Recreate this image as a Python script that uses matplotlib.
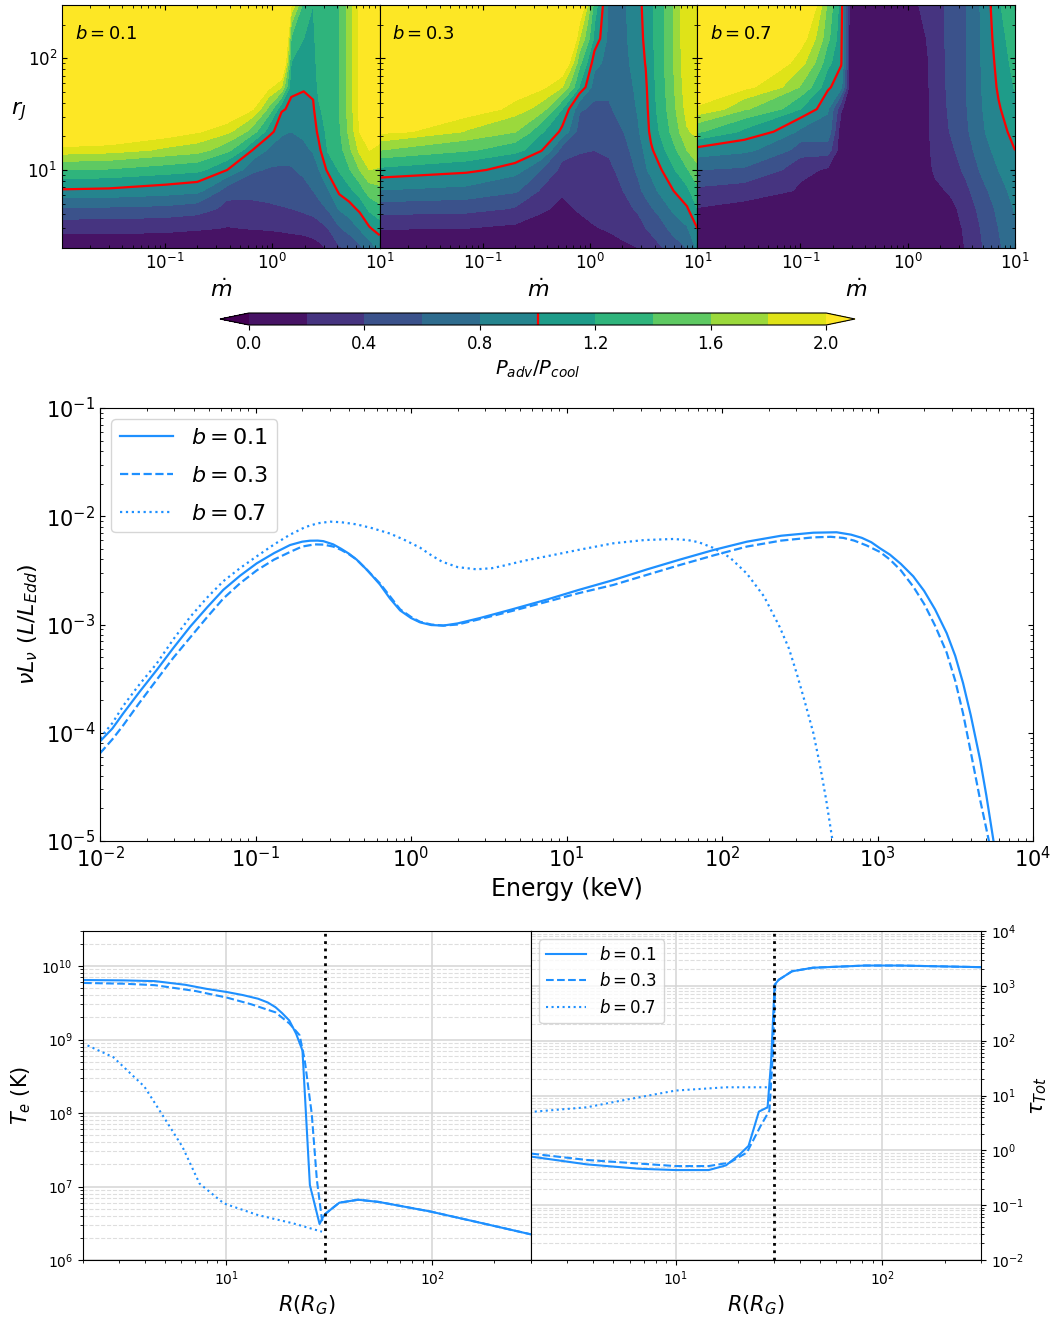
import numpy as np
import matplotlib
matplotlib.use("Agg")
import matplotlib.pyplot as plt
from matplotlib.ticker import LogLocator, NullFormatter

W, H = 1059, 1322
fig = plt.figure(figsize=(W / 100, H / 100), dpi=100)

# ---------------- top: P_adv/P_cool maps ----------------
rj = [2, 3, 4.5, 6.5, 10, 15, 22, 35, 55, 90, 150, 300]

mdot_b01 = [0.011, 0.03, 0.1, 0.2, 0.38, 0.65, 0.92, 1.22, 1.5, 1.96, 2.4, 2.7, 3.3, 4.2, 5.2, 6.5, 8.0, 10.0]
ratio_b01 = [  # one list per mdot column, values along rj
    [0.05, 0.27, 0.58, 0.975, 1.4, 1.92, 2.4, 3, 3, 3, 3, 3],
    [0.05, 0.27, 0.57, 0.96, 1.38, 1.88, 2.35, 3, 3, 3, 3, 3],
    [0.05, 0.25, 0.55, 0.9, 1.3, 1.75, 2.15, 2.8, 3, 3, 3, 3],
    [0.05, 0.22, 0.5, 0.85, 1.25, 1.68, 2.02, 2.6, 3, 3, 3, 3],
    [0.05, 0.19, 0.33, 0.49, 1.0, 1.45, 1.85, 2.3, 2.8, 3, 3, 3],
    [0.05, 0.21, 0.35, 0.46, 0.63, 1.0, 1.5, 2.02, 2.6, 3, 3, 3],
    [0.05, 0.22, 0.37, 0.47, 0.58, 0.77, 1.1, 1.55, 2.05, 2.6, 3, 3],
    [0.05, 0.24, 0.39, 0.47, 0.57, 0.71, 0.83, 1.03, 1.8, 2.5, 3, 3],
    [0.06, 0.26, 0.4, 0.47, 0.58, 0.7, 0.8, 0.95, 1.05, 1.19, 1.38, 2.0],
    [0.08, 0.28, 0.44, 0.53, 0.65, 0.76, 0.84, 0.93, 1.02, 1.1, 1.2, 1.3],
    [0.12, 0.3, 0.48, 0.6, 0.7, 0.82, 0.9, 0.97, 1.05, 1.12, 1.16, 1.2],
    [0.15, 0.33, 0.52, 0.68, 0.79, 0.95, 1.05, 1.17, 1.25, 1.28, 1.3, 1.32],
    [0.22, 0.4, 0.62, 0.78, 1.05, 1.22, 1.27, 1.3, 1.3, 1.3, 1.3, 1.3],
    [0.38, 0.58, 0.82, 1.05, 1.22, 1.32, 1.37, 1.4, 1.4, 1.4, 1.4, 1.4],
    [0.45, 0.68, 0.92, 1.15, 1.38, 1.55, 1.65, 1.68, 1.7, 1.7, 1.7, 1.7],
    [0.55, 0.82, 1.05, 1.3, 1.6, 1.85, 2.0, 2.05, 2.05, 2.05, 2.05, 2.05],
    [0.7, 0.98, 1.25, 1.5, 1.8, 2.0, 2.2, 2.2, 2.2, 2.2, 2.2, 2.2],
    [0.85, 1.1, 1.35, 1.55, 1.78, 1.95, 2.1, 2.3, 2.3, 2.3, 2.3, 2.3],
]

mdot_b03 = [0.011, 0.07, 0.2, 0.35, 0.55, 0.8, 1.1, 1.5, 2.1, 2.8, 3.3, 3.7, 4.5, 6.0, 8.0, 10.0]
ratio_b03 = [
    [0.05, 0.21, 0.5, 0.79, 1.15, 1.6, 2.05, 2.6, 3, 3, 3, 3],
    [0.05, 0.2, 0.47, 0.74, 1.05, 1.42, 1.78, 2.15, 2.7, 3, 3, 3],
    [0.05, 0.16, 0.38, 0.63, 0.88, 1.27, 1.61, 1.9, 2.2, 2.6, 3, 3],
    [0.05, 0.1, 0.24, 0.37, 0.6, 1.02, 1.23, 1.7, 2.05, 2.5, 3, 3],
    [0.05, 0.06, 0.13, 0.24, 0.33, 0.5, 0.95, 1.2, 1.8, 2.3, 2.8, 3],
    [0.05, 0.1, 0.24, 0.3, 0.36, 0.41, 0.5, 0.62, 1.18, 1.45, 1.8, 2.3],
    [0.1, 0.19, 0.26, 0.3, 0.34, 0.4, 0.47, 0.56, 0.68, 0.88, 1.15, 1.3],
    [0.13, 0.22, 0.28, 0.32, 0.36, 0.43, 0.5, 0.58, 0.64, 0.7, 0.73, 0.75],
    [0.17, 0.27, 0.35, 0.41, 0.48, 0.54, 0.61, 0.68, 0.72, 0.75, 0.77, 0.78],
    [0.2, 0.32, 0.43, 0.55, 0.64, 0.72, 0.78, 0.82, 0.85, 0.9, 0.93, 0.95],
    [0.25, 0.4, 0.52, 0.66, 0.78, 0.84, 0.9, 0.94, 0.97, 1.01, 1.04, 1.06],
    [0.3, 0.45, 0.58, 0.72, 0.85, 0.97, 1.06, 1.1, 1.12, 1.14, 1.15, 1.15],
    [0.38, 0.52, 0.68, 0.84, 0.98, 1.12, 1.22, 1.28, 1.3, 1.32, 1.33, 1.33],
    [0.5, 0.68, 0.85, 1.0, 1.18, 1.35, 1.48, 1.55, 1.58, 1.6, 1.6, 1.6],
    [0.6, 0.78, 0.98, 1.15, 1.38, 1.6, 1.78, 1.88, 1.93, 1.97, 2.0, 2.0],
    [0.85, 1.0, 1.2, 1.35, 1.55, 1.72, 1.85, 1.92, 1.95, 1.97, 1.98, 1.98],
]

mdot_b07 = [0.011, 0.03, 0.1, 0.18, 0.24, 0.29, 0.5, 1.0, 1.3, 1.8, 2.5, 3.5, 5.0, 7.0, 10.0]
ratio_b07 = [
    [0.05, 0.07, 0.19, 0.36, 0.6, 0.93, 1.42, 1.95, 2.3, 2.7, 3.0, 3.0],
    [0.05, 0.06, 0.13, 0.31, 0.57, 0.84, 1.15, 1.62, 2.05, 2.3, 2.6, 3.0],
    [0.05, 0.05, 0.07, 0.17, 0.25, 0.5, 0.75, 1.2, 1.58, 1.88, 2.12, 2.5],
    [0.05, 0.05, 0.05, 0.05, 0.17, 0.5, 0.74, 0.82, 1.04, 1.26, 1.45, 1.55],
    [0.05, 0.05, 0.05, 0.05, 0.05, 0.05, 0.05, 0.22, 0.85, 1.02, 1.05, 1.1],
    [0.08, 0.08, 0.08, 0.08, 0.08, 0.08, 0.08, 0.08, 0.08, 0.08, 0.08, 0.08],
    [0.05, 0.05, 0.05, 0.05, 0.05, 0.05, 0.05, 0.05, 0.05, 0.05, 0.05, 0.05],
    [0.05, 0.05, 0.05, 0.05, 0.05, 0.05, 0.05, 0.05, 0.05, 0.05, 0.05, 0.05],
    [0.05, 0.05, 0.05, 0.05, 0.05, 0.05, 0.05, 0.05, 0.05, 0.05, 0.12, 0.22],
    [0.05, 0.05, 0.08, 0.15, 0.24, 0.28, 0.3, 0.31, 0.32, 0.33, 0.33, 0.34],
    [0.05, 0.08, 0.14, 0.23, 0.3, 0.36, 0.41, 0.43, 0.44, 0.44, 0.45, 0.45],
    [0.22, 0.25, 0.3, 0.36, 0.45, 0.52, 0.57, 0.59, 0.6, 0.6, 0.6, 0.6],
    [0.4, 0.43, 0.48, 0.55, 0.65, 0.73, 0.78, 0.8, 0.82, 0.83, 0.84, 0.85],
    [0.57, 0.6, 0.65, 0.72, 0.8, 0.87, 0.93, 0.98, 1.03, 1.07, 1.12, 1.18],
    [0.75, 0.78, 0.82, 0.88, 0.95, 1.0, 1.07, 1.15, 1.22, 1.28, 1.32, 1.35],
]

panel_labels = [r"$b = 0.1$", r"$b = 0.3$", r"$b = 0.7$"]
levels = [0.0, 0.2, 0.4, 0.6, 0.8, 1.0, 1.2, 1.4, 1.6, 1.8, 2.0]
cbar_ticks = [0.0, 0.4, 0.8, 1.2, 1.6, 2.0]

maps = [(mdot_b01, ratio_b01), (mdot_b03, ratio_b03), (mdot_b07, ratio_b07)]
pw = 317.7
cs_ref = None
cl_ref = None
for i, (md, rat) in enumerate(maps):
    ax = fig.add_axes([(62 + i * pw) / W, 1 - 248 / H, pw / W, 243 / H])
    Z = np.array(rat).T
    cs = ax.contourf(md, rj, Z, levels=levels, cmap="viridis", extend="both")
    cl = ax.contour(md, rj, Z, levels=[1.0], colors="red", linewidths=1.6)
    if i == 0:
        cs_ref, cl_ref = cs, cl
    ax.set_xscale("log")
    ax.set_yscale("log")
    ax.set_xlim(md[0], md[-1])
    ax.set_ylim(rj[0], rj[-1])
    ax.tick_params(which="both", direction="in", top=True, right=True, labelsize=12)
    ax.set_xlabel(r"$\dot{m}$", fontsize=16, labelpad=4)
    if i == 0:
        ax.set_ylabel(r"$r_J$", fontsize=16, rotation=0, ha="center", va="center")
        ax.yaxis.set_label_coords(-0.135, 0.56)
    else:
        ax.tick_params(labelleft=False)
    ax.text(0.04, 0.86, panel_labels[i], transform=ax.transAxes, fontsize=13)

cax = fig.add_axes([220 / W, 1 - 325 / H, 635 / W, 12 / H])
cb = fig.colorbar(cs_ref, cax=cax, orientation="horizontal", ticks=cbar_ticks)
cb.add_lines(cl_ref)
cb.ax.tick_params(labelsize=12)
cb.set_label(r"$P_{adv}/P_{cool}$", fontsize=14)

# ---------------- middle: spectra ----------------
logE_b01 = [-2.0, -1.92, -1.85, -1.75, -1.635, -1.53, -1.42, -1.31, -1.207, -1.10, -0.992, -0.88, -0.778,
            -0.70, -0.65, -0.60, -0.564, -0.50, -0.45, -0.40, -0.35, -0.28, -0.2, -0.135, -0.07, 0.0, 0.058,
            0.13, 0.208, 0.30, 0.444, 0.65, 0.873, 1.08, 1.30, 1.52, 1.73, 1.95, 2.16, 2.38, 2.587, 2.737,
            2.83, 2.90, 2.96, 3.016, 3.08, 3.15, 3.23, 3.30, 3.37, 3.445, 3.50, 3.55, 3.60, 3.66, 3.70,
            3.745, 3.76]
logL_b01 = [-4.08, -3.96, -3.82, -3.63, -3.42, -3.22, -3.02, -2.84, -2.68, -2.55, -2.435, -2.34, -2.266,
            -2.235, -2.226, -2.225, -2.23, -2.26, -2.30, -2.345, -2.40, -2.50, -2.63, -2.76, -2.87, -2.94, -2.98,
            -3.005, -3.01, -2.99, -2.94, -2.86, -2.77, -2.68, -2.59, -2.49, -2.40, -2.31, -2.235, -2.18, -2.152,
            -2.148, -2.17, -2.20, -2.24, -2.296, -2.355, -2.44, -2.555, -2.69, -2.86, -3.08, -3.29, -3.54, -3.84,
            -4.25, -4.58, -4.99, -5.12]
logE_b03 = [-2.0, -1.92, -1.85, -1.75, -1.635, -1.53, -1.42, -1.31, -1.207, -1.10, -0.992, -0.88, -0.778,
            -0.70, -0.62, -0.564, -0.50, -0.45, -0.40, -0.35, -0.28, -0.2, -0.135, -0.07, 0.0, 0.058, 0.13,
            0.208, 0.30, 0.444, 0.65, 0.873, 1.08, 1.30, 1.52, 1.73, 1.95, 2.16, 2.38, 2.587, 2.70, 2.78, 2.85,
            2.93, 3.016, 3.08, 3.15, 3.23, 3.30, 3.37, 3.445, 3.50, 3.55, 3.60, 3.66, 3.69, 3.715, 3.73]
logL_b03 = [-4.19, -4.06, -3.93, -3.73, -3.51, -3.31, -3.12, -2.93, -2.76, -2.62, -2.50, -2.40, -2.33,
            -2.28, -2.26, -2.262, -2.28, -2.31, -2.35, -2.40, -2.50, -2.62, -2.74, -2.86, -2.93, -2.975, -3.0,
            -3.01, -3.0, -2.95, -2.875, -2.79, -2.71, -2.635, -2.54, -2.45, -2.36, -2.28, -2.225, -2.195, -2.19,
            -2.20, -2.225, -2.27, -2.33, -2.40, -2.50, -2.65, -2.81, -3.01, -3.26, -3.52, -3.82, -4.18, -4.62,
            -4.82, -4.99, -5.12]
logE_b07 = [-2.0, -1.92, -1.85, -1.75, -1.635, -1.53, -1.42, -1.31, -1.207, -1.10, -0.992, -0.88, -0.778,
            -0.68, -0.60, -0.52, -0.45, -0.35, -0.25, -0.135, -0.04, 0.058, 0.13, 0.20, 0.30, 0.42, 0.52, 0.60,
            0.73, 0.873, 1.08, 1.30, 1.50, 1.687, 1.78, 1.85, 1.94, 2.05, 2.16, 2.27, 2.37, 2.43, 2.48, 2.53,
            2.587, 2.63, 2.67, 2.71, 2.72]
logL_b07 = [-4.05, -3.91, -3.75, -3.56, -3.36, -3.14, -2.93, -2.75, -2.60, -2.48, -2.37, -2.26, -2.17,
            -2.10, -2.065, -2.05, -2.055, -2.075, -2.11, -2.16, -2.22, -2.29, -2.36, -2.42, -2.47, -2.49, -2.48,
            -2.455, -2.41, -2.37, -2.31, -2.25, -2.22, -2.21, -2.22, -2.24, -2.29, -2.38, -2.53, -2.74, -3.02,
            -3.22, -3.45, -3.70, -4.0, -4.3, -4.62, -4.99, -5.1]

blue = "#1E90FF"
series = [(logE_b01, logL_b01, "-", r"$b = 0.1$"),
          (logE_b03, logL_b03, "--", r"$b = 0.3$"),
          (logE_b07, logL_b07, ":", r"$b = 0.7$")]

axm = fig.add_axes([100 / W, 1 - 841 / H, 933 / W, 433 / H])
for le, ll, ls, lab in series:
    axm.plot(10 ** np.array(le), 10 ** np.array(ll), color=blue, ls=ls, lw=1.6, label=lab)
axm.set_xscale("log")
axm.set_yscale("log")
axm.set_xlim(1e-2, 1e4)
axm.set_ylim(1e-5, 1e-1)
axm.tick_params(which="both", direction="in", top=True, right=True, labelsize=15)
axm.set_xlabel("Energy (keV)", fontsize=17)
axm.set_ylabel(r"$\nu L_\nu\ (L/L_{Edd})$", fontsize=16)
axm.legend(loc="upper left", fontsize=16, handlelength=2.4, labelspacing=0.8)

# ---------------- bottom: Te and tau profiles ----------------
logR_te_b01 = [0.308, 0.50, 0.652, 0.80, 0.903, 1.003, 1.08, 1.154, 1.20, 1.238, 1.27, 1.305, 1.338, 1.369,
               1.405, 1.452, 1.468, 1.481, 1.548, 1.64, 1.74, 1.99, 2.243, 2.477]
logTe_b01 = [9.81, 9.805, 9.795, 9.745, 9.69, 9.646, 9.605, 9.555, 9.505, 9.44, 9.36, 9.26, 9.08, 8.85,
             7.02, 6.49, 6.58, 6.63, 6.78, 6.82, 6.79, 6.66, 6.50, 6.35]
logR_te_b03 = [0.308, 0.50, 0.652, 0.85, 1.003, 1.12, 1.238, 1.305, 1.355, 1.38, 1.414, 1.439, 1.464, 1.481,
               1.548, 1.64, 1.74, 1.99, 2.243, 2.477]
logTe_b03 = [9.77, 9.76, 9.74, 9.66, 9.57, 9.48, 9.37, 9.22, 9.06, 8.72, 7.99, 7.09, 6.54, 6.63,
             6.78, 6.82, 6.79, 6.66, 6.50, 6.35]
logR_te_b07 = [0.325, 0.45, 0.601, 0.685, 0.786, 0.869, 0.987, 1.154, 1.322, 1.464]
logTe_b07 = [8.92, 8.76, 8.36, 7.99, 7.54, 7.04, 6.77, 6.61, 6.50, 6.385]

logR_tau_b01 = [0.303, 0.571, 0.824, 1.0, 1.16, 1.244, 1.311, 1.353, 1.403, 1.445, 1.462, 1.479, 1.499,
                1.563, 1.664, 1.916, 2.084, 2.484]
logtau_b01 = [-0.115, -0.256, -0.336, -0.36, -0.36, -0.274, -0.072, 0.081, 0.706, 0.785, 1.61, 3.02, 3.11,
              3.265, 3.33, 3.37, 3.37, 3.34]
logR_tau_b03 = [0.303, 0.571, 1.0, 1.16, 1.261, 1.345, 1.412, 1.454, 1.471, 1.482, 1.499, 1.563, 1.664,
                1.916, 2.084, 2.484]
logtau_b03 = [-0.06, -0.176, -0.287, -0.287, -0.225, -0.04, 0.45, 0.724, 1.80, 3.02, 3.11, 3.265, 3.33,
              3.37, 3.37, 3.34]
logR_tau_b07 = [0.319, 0.571, 0.739, 1.0, 1.244, 1.462]
logtau_b07 = [0.706, 0.785, 0.908, 1.09, 1.15, 1.15]

r_transition = 30

te_series = [(logR_te_b01, logTe_b01, "-"), (logR_te_b03, logTe_b03, "--"), (logR_te_b07, logTe_b07, ":")]
tau_series = [(logR_tau_b01, logtau_b01, "-", r"$b = 0.1$"),
              (logR_tau_b03, logtau_b03, "--", r"$b = 0.3$"),
              (logR_tau_b07, logtau_b07, ":", r"$b = 0.7$")]


def style_grid(ax):
    ax.grid(True, which="major", color="#d4d4d4", lw=1.1)
    ax.yaxis.set_minor_locator(LogLocator(base=10, subs=np.arange(2, 10), numticks=100))
    ax.yaxis.set_minor_formatter(NullFormatter())
    ax.grid(True, which="minor", axis="y", color="#dedede", ls="--", lw=0.8)
    ax.set_axisbelow(True)


axL = fig.add_axes([82.6 / W, 1 - 1260 / H, 448 / W, 329 / H])
for lr, lt, ls in te_series:
    axL.plot(10 ** np.array(lr), 10 ** np.array(lt), color=blue, ls=ls, lw=1.5)
axL.axvline(r_transition, color="k", ls=":", lw=2)
axL.set_xscale("log")
axL.set_yscale("log")
axL.set_xlim(2, 300)
axL.set_ylim(1e6, 3e10)
style_grid(axL)
axL.tick_params(which="both", labelsize=10)
axL.set_xlabel(r"$R(R_G)$", fontsize=15)
axL.set_ylabel(r"$T_e$ (K)", fontsize=15, labelpad=6)

axR = fig.add_axes([531 / W, 1 - 1260 / H, 450 / W, 329 / H])
for lr, lt, ls, lab in tau_series:
    axR.plot(10 ** np.array(lr), 10 ** np.array(lt), color=blue, ls=ls, lw=1.5, label=lab)
axR.axvline(r_transition, color="k", ls=":", lw=2)
axR.set_xscale("log")
axR.set_yscale("log")
axR.set_xlim(2, 300)
axR.set_ylim(1e-2, 1e4)
axR.yaxis.tick_right()
axR.yaxis.set_label_position("right")
style_grid(axR)
axR.tick_params(which="both", labelsize=10)
axR.set_xlabel(r"$R(R_G)$", fontsize=15)
axR.set_ylabel(r"$\tau_{Tot}$", fontsize=15)
axR.legend(loc="upper left", fontsize=12, handlelength=2.4)

fig.savefig("out.png", dpi=100)
